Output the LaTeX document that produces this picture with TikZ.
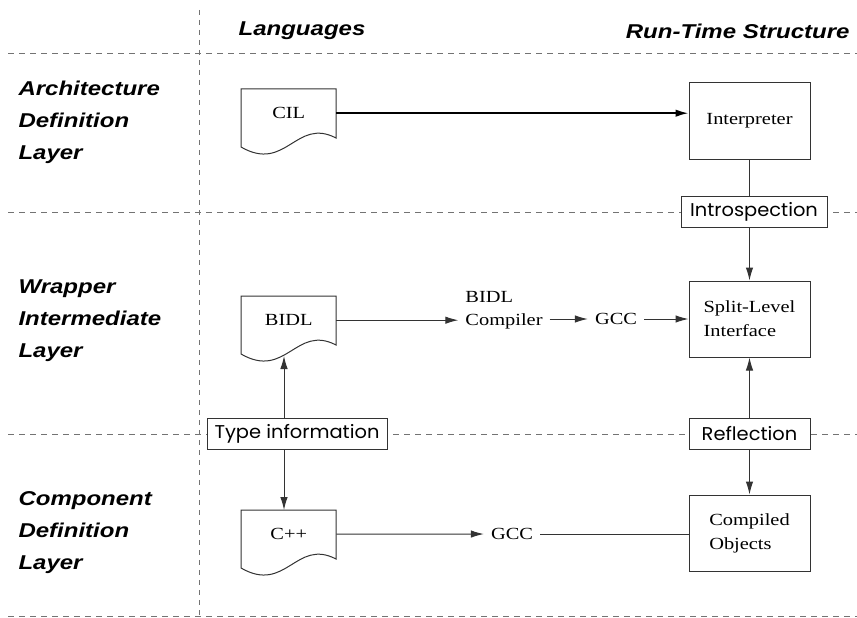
\documentclass[tikz,border=0pt]{standalone}
\usepackage{fontspec}
\setmainfont{Liberation Serif}[FakeStretch=1.2]
\newfontfamily\headfont{Liberation Sans}[FakeStretch=1.2]
\newfontfamily\tagfont{Poppins}[FakeStretch=1.05]
\usetikzlibrary{arrows.meta}
\tikzset{
  sep/.style={black!55, line width=0.9pt, dash pattern=on 6pt off 5pt},
  edge/.style={draw=black!80, line width=1pt},
  arr/.style={edge, -{Latex[length=13pt,width=7.5pt]}},
  box/.style={edge, fill=white, minimum width=121pt, minimum height=76pt, inner sep=0pt, align=left, font=\fontsize{17}{24}\selectfont},
  tag/.style={edge, fill=white, minimum height=31pt, inner sep=4pt, font=\tagfont\fontsize{18.5}{20}\selectfont},
  doc/.style={minimum width=95pt, minimum height=48pt, inner sep=0pt, anchor=north west, font=\fontsize{17}{20}\selectfont},
  word/.style={inner sep=7pt, align=left, font=\fontsize{17}{23}\selectfont},
  head/.style={align=left, font=\headfont\bfseries\itshape\fontsize{20}{32}\selectfont},
}
\newcommand{\docshape}[1]{%
  \draw[edge, shift={(#1.north west)}] (0,0) -- (95,0) -- (95,49) .. controls (55,28) and (45,84) .. (0,58) -- cycle;
}

\begin{document}
\begin{tikzpicture}[x=1pt,y=-1pt]
  \useasboundingbox (0,0) rectangle (857,618);
  \foreach \y in {53,212,434,616} \draw[sep] (8,\y) -- (857,\y);
  \draw[sep, dash pattern=on 5pt off 5pt] (199,10) -- (199,618);

  \node[head] (lang) at (302,31) {Languages};
  \node[head, anchor=east] (rts) at (853,31) {Run-Time Structure};
  \node[head, anchor=west] (arch) at (15,122) {Architecture\\Definition\\Layer};
  \node[head, anchor=west] (wrap) at (15,321) {Wrapper\\Intermediate\\Layer};
  \node[head, anchor=west] (comp) at (15,533) {Component\\Definition\\Layer};

  \node[doc] (cil) at (241,89) {CIL};
  \node[doc] (bidl) at (241,296) {BIDL};
  \node[doc] (cpp) at (241,510) {C++};
  \foreach \d in {cil,bidl,cpp} \docshape{\d};
  \coordinate (bidlin) at ([shift={(43,60)}]bidl.north west);

  \node[box, align=center] (interp) at (749.5,121) {Interpreter};
  \node[box] (split) at (749.5,319) {Split-Level\\Interface};
  \node[box] (objs) at (749.5,533) {Compiled\\Objects};

  \node[tag, minimum width=146pt] (intro) at (754,212) {Introspection};
  \node[tag, minimum width=121pt] (refl) at (749.5,434) {Reflection};
  \node[tag, minimum width=180pt] (type) at (297,434) {Type information};

  \node[word] (bidlc) at (504,310) {BIDL\\Compiler};
  \node[word] (gcca) at (616,319) {GCC};
  \node[word] (gccb) at (512,534) {GCC};

  \draw[arr, draw=black, line width=1.8pt] (cil) -- (interp.west |- cil);
  \draw[edge] (interp) -- (intro.north -| interp);
  \draw[arr] (intro.south -| interp) -- (split);
  \draw[arr] (refl) -- (split);
  \draw[arr] (refl) -- (objs);
  \draw[arr] (bidl) -- (bidlc.west |- bidl);
  \draw[arr] (bidlc.east |- gcca) -- (gcca);
  \draw[arr] (gcca) -- (split.west |- gcca);
  \draw[arr] (type.north -| bidlin) -- (bidlin);
  \draw[arr] (type.south -| bidlin) -- (cpp.north -| bidlin);
  \draw[arr] (cpp) -- (gccb);
  \draw[edge] (gccb) -- (objs.west |- gccb);
\end{tikzpicture}
\end{document}
